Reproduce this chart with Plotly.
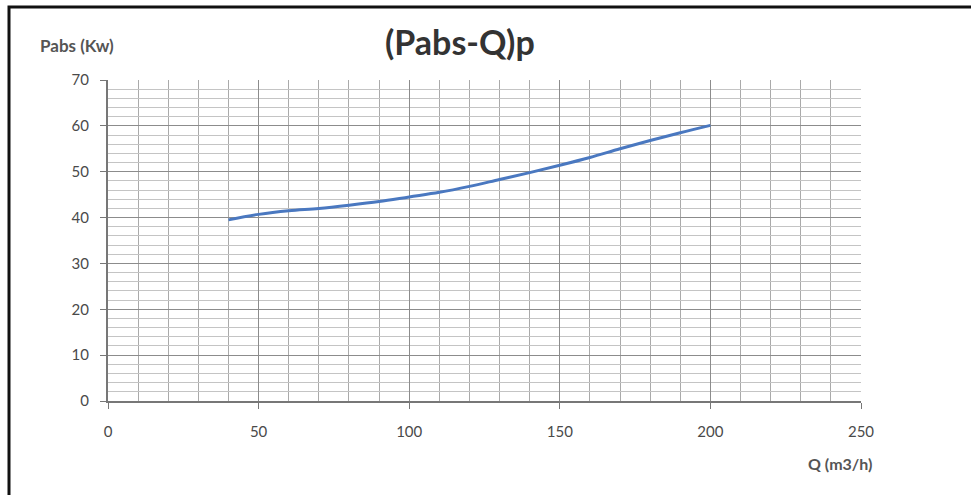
import plotly.graph_objects as go

q = [40, 50, 60, 70, 80, 90, 100, 110, 120, 130, 140, 150, 160, 170, 180, 190, 200]
pabs = [39.5, 40.7, 41.5, 42.0, 42.7, 43.5, 44.5, 45.5, 46.8, 48.3, 49.8, 51.4, 53.1, 55.0, 56.8, 58.5, 60.1]

title_text = "(Pabs-Q)p"
y_label = "Pabs (Kw)"
x_label = "Q (m3/h)"

W, H = 971, 495
L, R, T, B = 108, 110, 80, 94
pw, ph = W - L - R, H - T - B

def px(x):
    return (x - L) / pw

def py(y):
    return (H - B - y) / ph

fig = go.Figure()
fig.add_trace(go.Scatter(x=q, y=pabs, mode="lines",
                         line=dict(color="#4a78c0", width=3, shape="spline"),
                         showlegend=False, hoverinfo="x+y"))

tickfont = dict(family="Lato, Open Sans, sans-serif", size=15, color="#4a4a4a")

fig.update_xaxes(range=[0, 250], tickvals=[0, 50, 100, 150, 200, 250],
                 showgrid=True, gridcolor="#8c8c8c", gridwidth=1,
                 minor=dict(dtick=10, showgrid=True, gridcolor="#aaaaaa", gridwidth=1),
                 showline=True, linecolor="#777777", linewidth=2,
                 ticks="outside", ticklen=6, tickcolor="#777777", tickwidth=1,
                 ticklabelstandoff=10,
                 tickfont=tickfont, zeroline=False, fixedrange=True)
fig.update_yaxes(range=[0, 70], tickvals=[0, 10, 20, 30, 40, 50, 60, 70],
                 showgrid=True, gridcolor="#8c8c8c", gridwidth=1,
                 minor=dict(dtick=2, showgrid=True, gridcolor="#c4c4c4", gridwidth=1),
                 showline=True, linecolor="#777777", linewidth=2,
                 ticks="outside", ticklen=6, tickcolor="#777777", tickwidth=1,
                 ticklabelstandoff=8,
                 tickfont=tickfont, zeroline=False, fixedrange=True)

fig.add_annotation(text="<b>" + title_text + "</b>", xref="paper", yref="paper",
                   x=px(460), y=py(41), xanchor="center", yanchor="middle",
                   showarrow=False, font=dict(family="Lato, Open Sans, sans-serif", size=34, color="#333333"))
fig.add_annotation(text="<b>" + y_label + "</b>", xref="paper", yref="paper",
                   x=px(38), y=py(46), xanchor="left", yanchor="middle",
                   showarrow=False, font=dict(family="Lato, Open Sans, sans-serif", size=17, color="#555555"))
fig.add_annotation(text="<b>" + x_label + "</b>", xref="paper", yref="paper",
                   x=px(840), y=py(463), xanchor="center", yanchor="middle",
                   showarrow=False, font=dict(family="Lato, Open Sans, sans-serif", size=16, color="#555555"))

fig.add_shape(type="rect", xref="paper", yref="paper",
              x0=px(9), x1=px(990), y0=py(510), y1=py(7),
              line=dict(color="#111111", width=3), fillcolor="rgba(0,0,0,0)", layer="above")

fig.update_layout(width=W, height=H, margin=dict(l=L, r=R, t=T, b=B),
                  paper_bgcolor="white", plot_bgcolor="white")

fig.write_html("out.html", config={"displayModeBar": False},
               post_script="document.body.style.margin='0';")
